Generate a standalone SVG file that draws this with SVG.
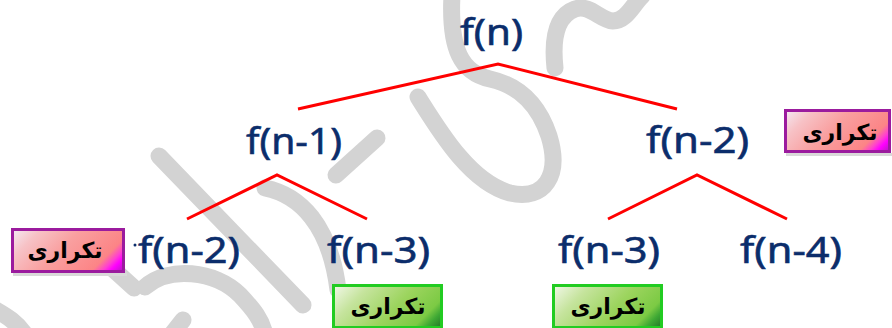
<svg xmlns="http://www.w3.org/2000/svg" xmlns:xlink="http://www.w3.org/1999/xlink" width="892" height="328" viewBox="0 0 892 328">
  <style>
    .lbl { font-family: "Noto Sans", "DejaVu Sans", sans-serif; font-size: 37px; fill: #0b2d6b; stroke: #0b2d6b; stroke-width: 0.6; text-anchor: middle; }
    .tag { font-family: "DejaVu Sans", "Noto Sans", sans-serif; font-size: 22px; font-weight: bold; fill: #000; text-anchor: middle; }
    .edge { stroke: #ff0000; stroke-width: 3; fill: none; stroke-linecap: butt; }
    .wm { stroke: #d3d3d3; stroke-width: 17; fill: none; stroke-linecap: round; stroke-linejoin: round; }
    .pbox { stroke: #9b1b9e; stroke-width: 3; }
    .gbox { stroke: #22cc22; stroke-width: 3; }
    .shadow { fill: #d9d9d9; }
  </style>
  <defs>
    <linearGradient id="pStops">
      <stop offset="0" stop-color="#f3eef8"/>
      <stop offset="0.2" stop-color="#f7c2c6"/>
      <stop offset="0.45" stop-color="#f9a0a0"/>
      <stop offset="0.78" stop-color="#fc8486"/>
      <stop offset="0.85" stop-color="#ff40d0"/>
      <stop offset="0.9" stop-color="#ff00ff"/>
      <stop offset="1" stop-color="#a41fb2"/>
    </linearGradient>
    <linearGradient id="gStops">
      <stop offset="0" stop-color="#f6faf0"/>
      <stop offset="0.25" stop-color="#c6e49e"/>
      <stop offset="0.55" stop-color="#9cd45e"/>
      <stop offset="0.8" stop-color="#7cca44"/>
      <stop offset="0.88" stop-color="#3ea834"/>
      <stop offset="1" stop-color="#1b6b24"/>
    </linearGradient>
    <linearGradient id="gradP1" xlink:href="#pStops" gradientUnits="userSpaceOnUse" x1="784" y1="109" x2="859" y2="184"/>
    <linearGradient id="gradP2" xlink:href="#pStops" gradientUnits="userSpaceOnUse" x1="11" y1="228" x2="90" y2="307"/>
    <linearGradient id="gradG1" xlink:href="#gStops" gradientUnits="userSpaceOnUse" x1="332" y1="284" x2="410" y2="362"/>
    <linearGradient id="gradG2" xlink:href="#gStops" gradientUnits="userSpaceOnUse" x1="552" y1="284" x2="630" y2="362"/>
  </defs>

  <rect width="892" height="328" fill="#ffffff"/>

  <g id="watermark">
    <path class="wm" d="M418,97 C440,132 470,182 510,193 C545,201 561,175 549,136 C539,106 521,86 490,79 C462,73 449,50 452,-5"/>
    <path class="wm" d="M555,68 C552,40 556,16 575,9 C590,4 600,20 613,21 C626,21 632,6 642,-4"/>
    <path class="wm" d="M159,156 L303,305"/>
    <path class="wm" d="M377,138 L336,175"/>
    <path class="wm" d="M265,188 C300,195 330,225 338,290"/>
    <path class="wm" d="M102,259 L134,288"/>
    <path class="wm" d="M145,287 C168,266 215,270 240,295 C254,310 262,320 265,335"/>
    <path class="wm" d="M-4,310 C8,317 16,322 24,333"/>
    <path class="wm" d="M172,334 L183,320"/>
  </g>

  <g id="connectors">
    <polyline class="edge" points="298,109 498,64 677,109"/>
    <polyline class="edge" points="187,219 277,175 367,219"/>
    <polyline class="edge" points="608,219 697,175 787,219"/>
  </g>

  <g id="n-root"><text class="lbl" x="491.5" y="45" textLength="63" lengthAdjust="spacingAndGlyphs">f(n)</text></g>
  <g id="n-1"><text class="lbl" x="294" y="154" textLength="96" lengthAdjust="spacingAndGlyphs">f(n-1)</text></g>
  <g id="n-2a"><text class="lbl" x="697.5" y="153" textLength="103" lengthAdjust="spacingAndGlyphs">f(n-2)</text></g>
  <g id="n-2b"><text class="lbl" x="189" y="263" textLength="102" lengthAdjust="spacingAndGlyphs">f(n-2)</text></g>
  <g id="n-3a"><text class="lbl" x="378.5" y="263" textLength="103" lengthAdjust="spacingAndGlyphs">f(n-3)</text></g>
  <g id="n-3b"><text class="lbl" x="609" y="263" textLength="102" lengthAdjust="spacingAndGlyphs">f(n-3)</text></g>
  <g id="n-4"><text class="lbl" x="791" y="263" textLength="102" lengthAdjust="spacingAndGlyphs">f(n-4)</text></g>

  <g id="tag-top-right">
    <rect class="shadow" x="786" y="153" width="106" height="3"/>
    <rect class="pbox" x="785.5" y="110.5" width="104" height="41" fill="url(#gradP1)"/>
    <text class="tag" x="840" y="140">تکراری</text>
  </g>
  <g id="tag-left">
    <rect class="shadow" x="13" y="273" width="114" height="3"/>
    <rect class="pbox" x="12.5" y="229.5" width="111" height="42" fill="url(#gradP2)"/>
    <text class="tag" x="65" y="258">تکراری</text>
    <circle cx="135" cy="245" r="1.5" fill="#0b2d6b"/>
  </g>
  <g id="tag-bottom-left">
    <rect class="gbox" x="333.5" y="285.5" width="108" height="42" fill="url(#gradG1)"/>
    <text class="tag" x="388" y="314">تکراری</text>
  </g>
  <g id="tag-bottom-right">
    <rect class="gbox" x="553.5" y="285.5" width="108" height="42" fill="url(#gradG2)"/>
    <text class="tag" x="608" y="314">تکراری</text>
  </g>
</svg>
